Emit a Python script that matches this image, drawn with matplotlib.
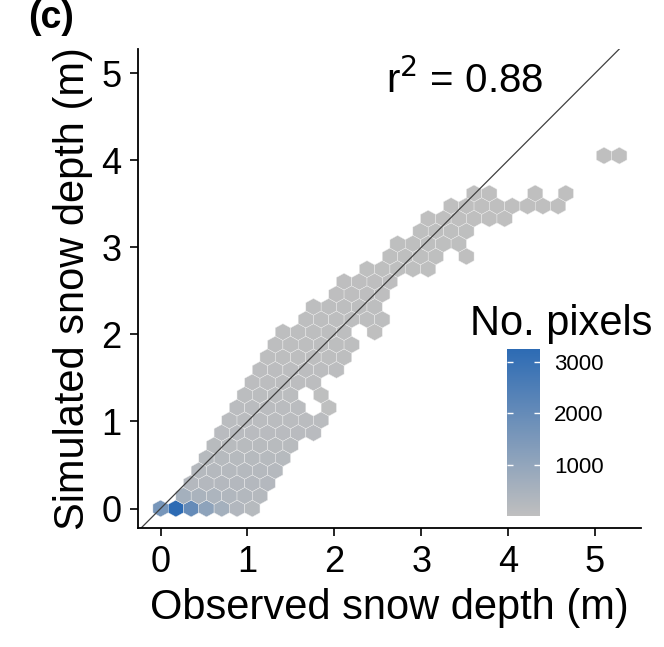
import matplotlib
matplotlib.use('Agg')
import matplotlib.pyplot as plt
import numpy as np
from matplotlib.colors import LinearSegmentedColormap, Normalize

plt.rcParams['font.family'] = ['Liberation Sans', 'DejaVu Sans']

# hex grid: bin width (observed, m) and row spacing (simulated, m)
bin_w = 0.176
row_h = 0.1448

# filled hex rows: first and last column (in bin widths, odd rows are offset by half a bin)
rows = [0, 1, 2, 3, 4, 5, 6, 7, 8, 9, 10, 11, 12, 13, 14, 15, 16, 17, 18, 19, 20, 21, 22, 23, 24, 25, 28]
row_first = [0, 1.5, 2, 2.5, 3, 3.5, 4, 4.5, 5, 5.5, 6, 6.5, 7, 7.5, 8, 9.5, 10, 11.5, 12, 13.5, 15, 15.5, 17, 17.5, 19, 20.5, 29]
row_last = [6, 6.5, 7, 7.5, 8, 8.5, 10, 10.5, 9, 8.5, 10, 11.5, 12, 12.5, 12, 14.5, 14, 14.5, 15, 17.5, 18, 19.5, 20, 22.5, 26, 21.5, 30]
# approx. pixel count of the ordinary cells in each row
row_level = [0, 0, 260, 220, 200, 170, 150, 120, 110, 90, 80, 70, 60, 55, 50, 45, 40, 35, 30, 25, 20, 18, 15, 12, 10, 8, 5]

# detached cells (row, column, count)
extra_rows = [8, 9, 14, 20, 25, 25]
extra_cols = [11, 10.5, 14, 20, 24.5, 26.5]
extra_counts = [15, 15, 10, 8, 5, 5]

# the bluish cells along the bottom
row0_counts = [1600, 3250, 2000, 1100, 600, 300, 200]
row1_counts = [600, 480, 400, 330, 280, 220]

obs, sim, npix = [], [], []
for k, r in enumerate(rows):
    cols = np.arange(row_first[k], row_last[k] + 0.01, 1.0)
    for j, c in enumerate(cols):
        if r == 0:
            n = row0_counts[j]
        elif r == 1:
            n = row1_counts[j]
        else:
            n = row_level[k]
        obs.append(c * bin_w)
        sim.append(r * row_h)
        npix.append(n)
for r, c, n in zip(extra_rows, extra_cols, extra_counts):
    obs.append(c * bin_w)
    sim.append(r * row_h)
    npix.append(n)

cmap = LinearSegmentedColormap.from_list('gb', ['#bfbfbf', '#2d6bb4'])
norm = Normalize(vmin=1, vmax=3255)

fig = plt.figure(figsize=(6.64, 6.47), dpi=100)
ax = fig.add_axes([0.2078, 0.1839, 0.7576, 0.7404])

hb = ax.hexbin(obs, sim, C=npix, reduce_C_function=np.sum,
               gridsize=(31, 15), extent=(0, 31 * bin_w, 0, 30 * row_h),
               cmap=cmap, norm=norm, edgecolors='#eeeeee', linewidths=0.3)
ax.axline((0, 0), slope=1, color='#404040', lw=0.9)

ax.set_xlim(-0.26, 5.53)
ax.set_ylim(-0.224, 5.28)
ax.set_xticks([0, 1, 2, 3, 4, 5])
ax.set_yticks([0, 1, 2, 3, 4, 5])
for s in ['top', 'right']:
    ax.spines[s].set_visible(False)
for s in ['left', 'bottom']:
    ax.spines[s].set_linewidth(1.3)
ax.tick_params(labelsize=26, length=6, width=1.2, pad=6)
ax.set_xlabel('Observed snow depth (m)', fontsize=30, labelpad=6)
ax.set_ylabel('Simulated snow depth (m)', fontsize=30, labelpad=6)

ax.text(2.6, 4.92, r'r$^2$ = 0.88', fontsize=29, va='center')
fig.text(0.043, 1.0, '(c)', fontsize=27, fontweight='bold', va='top')

cax = fig.add_axes([0.7636, 0.2025, 0.0497, 0.258])
cb = fig.colorbar(hb, cax=cax, ticks=[1000, 2000, 3000])
cb.outline.set_visible(False)
cax.tick_params(direction='in', colors='white', length=4, width=1, left=True, right=True,
                labelcolor='black', labelsize=16, pad=10)
fig.text(0.708, 0.5, 'No. pixels', fontsize=30, va='center')

fig.savefig('out.png', dpi=100)
